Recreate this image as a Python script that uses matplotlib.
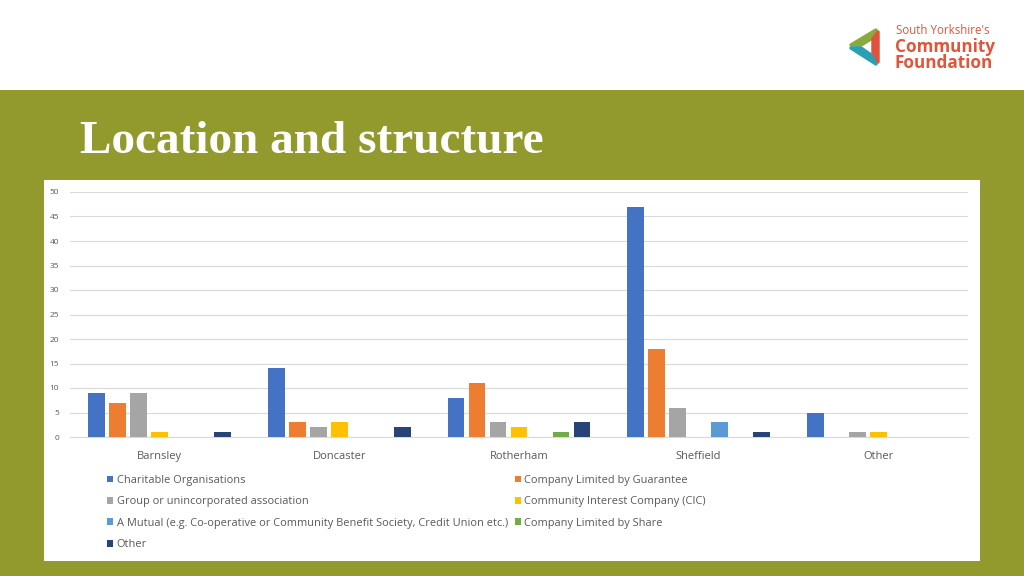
import numpy as np
import matplotlib.pyplot as plt
from matplotlib.patches import Rectangle, Polygon

# datos del gráfico
locations = ['Barnsley', 'Doncaster', 'Rotherham', 'Sheffield', 'Other']
structures = ['Charitable Organisations', 'Company Limited by Guarantee',
              'Group or unincorporated association', 'Community Interest Company (CIC)',
              'A Mutual (e.g. Co-operative or Community Benefit Society, Credit Union etc.)',
              'Company Limited by Share', 'Other']
charitable = [9, 14, 8, 47, 5]
guarantee = [7, 3, 11, 18, 0]
group = [9, 2, 3, 6, 1]
cic = [1, 3, 2, 0, 1]
mutual = [0, 0, 0, 3, 0]
share = [0, 0, 1, 0, 0]
other = [1, 2, 3, 1, 0]
series = [charitable, guarantee, group, cic, mutual, share, other]
colors = ['#4472c4', '#ed7d31', '#a5a5a5', '#ffc000', '#5b9bd5', '#70ad47', '#264478']

W, H = 1024, 576
fig = plt.figure(figsize=(W / 100, H / 100), dpi=100)
fig.patch.set_facecolor('#929a2e')

# franja blanca superior y panel blanco
fig.patches.append(Rectangle((0, 1 - 90 / H), 1, 90 / H, transform=fig.transFigure,
                             facecolor='white', edgecolor='none', zorder=-5))
fig.patches.append(Rectangle((44 / W, 1 - 561 / H), 936 / W, 381 / H, transform=fig.transFigure,
                             facecolor='white', edgecolor='none', zorder=-5))

fig.text(80 / W, 1 - 142 / H, 'Location and structure', color='white', fontsize=34,
         fontweight='bold', family='Liberation Serif', va='center', ha='left')

# logo
fig.text(896 / W, 1 - 31 / H, "South Yorkshire's", color='#e0553b', fontsize=8.3,
         family='Open Sans', va='center', ha='left')
fig.text(895 / W, 1 - 47 / H, 'Community', color='#e0553b', fontsize=12.3,
         family='Open Sans', fontweight='bold', va='center', ha='left')
fig.text(895 / W, 1 - 63 / H, 'Foundation', color='#e0553b', fontsize=12.3,
         family='Open Sans', fontweight='bold', va='center', ha='left')
lax = fig.add_axes([848 / W, 1 - 68 / H, 42 / W, 44 / H])
lax.set_xlim(0, 42)
lax.set_ylim(0, 44)
lax.axis('off')
lax.add_patch(Polygon([[3, 23], [28, 38], [23, 29], [13, 23]], closed=True,
                      facecolor='#8aab3c', edgecolor='#8aab3c', lw=2.5, joinstyle='round'))
lax.add_patch(Polygon([[30, 36], [30, 6], [25, 13], [25, 29]], closed=True,
                      facecolor='#e1523d', edgecolor='#e1523d', lw=2.5, joinstyle='round'))
lax.add_patch(Polygon([[28, 4], [3, 20], [13, 20], [23, 13]], closed=True,
                      facecolor='#2aa0b4', edgecolor='#2aa0b4', lw=2.5, joinstyle='round'))

ax = fig.add_axes([70 / W, 1 - 437 / H, 898 / W, 245 / H])
ax.set_facecolor('white')
x = np.arange(len(locations))
slot = 0.117
for i, (vals, c, lab) in enumerate(zip(series, colors, structures)):
    ax.bar(x + (i - 3) * slot, vals, width=slot * 0.8, color=c, label=lab, zorder=3)

ax.set_xlim(-0.5, 4.5)
ax.set_ylim(0, 50)
ax.set_yticks(range(0, 51, 5))
ax.grid(axis='y', color='#d9d9d9', linewidth=0.8, zorder=0)
for s in ['top', 'right', 'left']:
    ax.spines[s].set_visible(False)
ax.spines['bottom'].set_color('#d9d9d9')
ax.set_xticks(x)
ax.set_xticklabels(locations, fontsize=8, color='#595959', family='Open Sans')
ax.tick_params(axis='both', length=0)
ax.tick_params(axis='x', pad=10)
ax.tick_params(axis='y', pad=8)
for t in ax.get_yticklabels():
    t.set_fontsize(6)
    t.set_color('#595959')
    t.set_family('Open Sans')

handles, labels = ax.get_legend_handles_labels()
order = [0, 2, 4, 6, 1, 3, 5]
leg = fig.legend([handles[k] for k in order], [labels[k] for k in order], ncol=2,
                 loc='upper left', bbox_to_anchor=(97 / W, 1 - 465 / H), frameon=False,
                 prop={'family': 'Open Sans', 'size': 7.9}, labelcolor='#595959',
                 handlelength=0.6, handleheight=0.6, handletextpad=0.3,
                 columnspacing=0.6, labelspacing=0.95)

plt.savefig('out.png', dpi=100, facecolor=fig.get_facecolor())
